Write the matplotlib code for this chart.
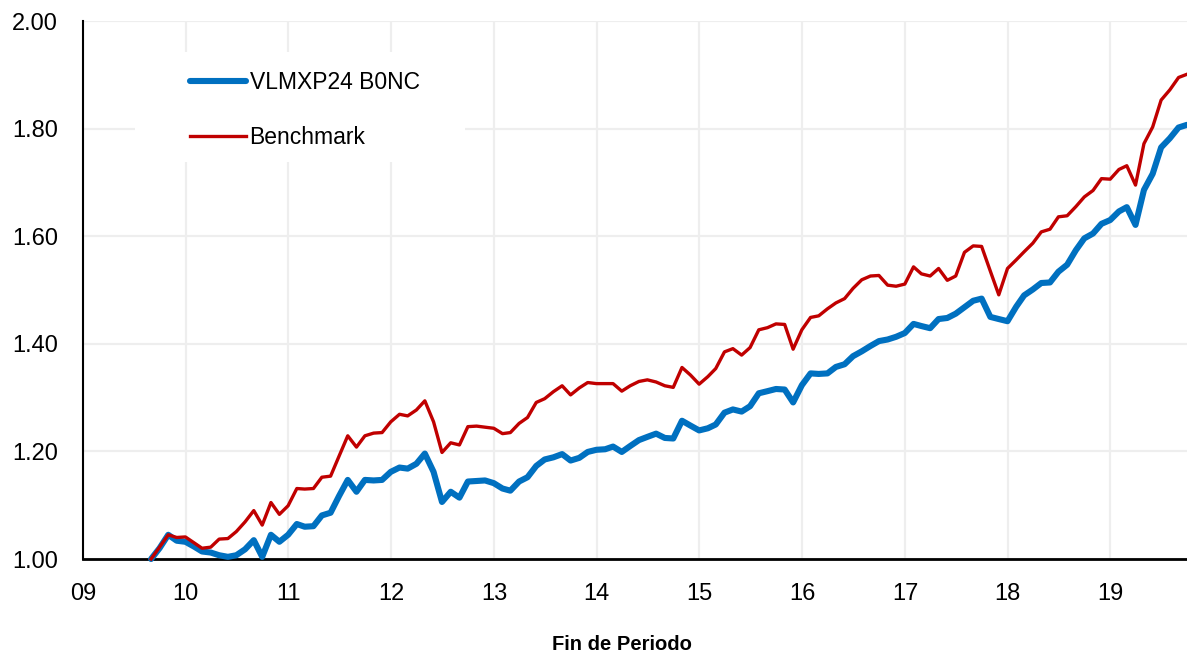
import matplotlib
matplotlib.use("Agg")
import matplotlib.pyplot as plt
import pandas as pd
import datetime as dt
from matplotlib.patches import Rectangle

# ---- data ----
dates = pd.date_range("2009-08-31", periods=122, freq="ME")
fund = [1.000, 1.020, 1.045, 1.034, 1.032, 1.023, 1.014, 1.012, 1.007, 1.004,
        1.007, 1.018, 1.035, 1.004, 1.045, 1.032, 1.045, 1.065, 1.060, 1.061,
        1.081, 1.086, 1.117, 1.147, 1.125, 1.147, 1.146, 1.147, 1.162, 1.170,
        1.168, 1.177, 1.196, 1.162, 1.106, 1.125, 1.114, 1.144, 1.145, 1.146,
        1.141, 1.131, 1.127, 1.144, 1.152, 1.173, 1.185, 1.189, 1.195, 1.183,
        1.188, 1.199, 1.203, 1.204, 1.209, 1.199, 1.210, 1.221, 1.227, 1.233,
        1.225, 1.224, 1.257, 1.248, 1.239, 1.243, 1.250, 1.272, 1.278, 1.274,
        1.284, 1.308, 1.312, 1.316, 1.315, 1.291, 1.323, 1.345, 1.344, 1.345,
        1.357, 1.362, 1.377, 1.386, 1.396, 1.405, 1.408, 1.413, 1.420, 1.437,
        1.433, 1.429, 1.446, 1.448, 1.456, 1.468, 1.480, 1.484, 1.450, 1.446,
        1.442, 1.469, 1.490, 1.501, 1.513, 1.514, 1.534, 1.547, 1.574, 1.596,
        1.605, 1.623, 1.630, 1.646, 1.654, 1.621, 1.686, 1.716, 1.765, 1.782,
        1.802, 1.807]
bench = [1.000, 1.022, 1.045, 1.040, 1.041, 1.030, 1.020, 1.022, 1.037, 1.038,
         1.051, 1.069, 1.090, 1.063, 1.105, 1.083, 1.099, 1.131, 1.130, 1.131,
         1.152, 1.154, 1.191, 1.229, 1.208, 1.229, 1.234, 1.235, 1.255, 1.269,
         1.266, 1.277, 1.294, 1.255, 1.198, 1.216, 1.212, 1.246, 1.247, 1.245,
         1.243, 1.233, 1.235, 1.252, 1.263, 1.291, 1.298, 1.311, 1.322, 1.305,
         1.318, 1.328, 1.326, 1.326, 1.326, 1.312, 1.322, 1.330, 1.333, 1.329,
         1.322, 1.319, 1.356, 1.342, 1.325, 1.339, 1.354, 1.385, 1.391, 1.379,
         1.393, 1.426, 1.430, 1.437, 1.436, 1.390, 1.426, 1.449, 1.452, 1.465,
         1.476, 1.484, 1.503, 1.519, 1.526, 1.527, 1.509, 1.507, 1.511, 1.543,
         1.530, 1.526, 1.540, 1.518, 1.526, 1.570, 1.582, 1.581, 1.535, 1.491,
         1.540, 1.556, 1.571, 1.587, 1.608, 1.613, 1.636, 1.638, 1.655, 1.673,
         1.685, 1.707, 1.706, 1.724, 1.731, 1.695, 1.772, 1.803, 1.853, 1.872,
         1.895, 1.901]
years = list(range(2009, 2020))
year_labels = ["09", "10", "11", "12", "13", "14", "15", "16", "17", "18", "19"]
y_ticks = [1.0, 1.2, 1.4, 1.6, 1.8, 2.0]
series_names = ["VLMXP24 B0NC", "Benchmark"]

plt.rcParams["font.family"] = ["Liberation Sans", "DejaVu Sans"]

W, H = 1187, 658
fig = plt.figure(figsize=(W / 100, H / 100), dpi=100)
ax = fig.add_axes([83 / W, 1 - 559 / H, (W - 83) / W, (559 - 21) / H])

ax.set_axisbelow(True)
ax.grid(True, color="#EEEEEE", linewidth=1.6)

ax.plot(dates, fund, color="#0070C0", linewidth=4.4, label=series_names[0],
        solid_joinstyle="round", solid_capstyle="round", zorder=3, clip_on=False)
ax.plot(dates, bench, color="#C00000", linewidth=2.4, label=series_names[1],
        solid_joinstyle="round", zorder=4, clip_on=False)

ax.set_ylim(1.0, 2.0)
ax.set_yticks(y_ticks)
ax.set_yticklabels([f"{v:.2f}" for v in y_ticks])
ax.set_xlim(dt.datetime(2009, 1, 1), dates[-1])
ax.set_xticks([dt.datetime(y, 1, 1) for y in years])
ax.set_xticklabels(year_labels)
ax.tick_params(axis="both", length=0, labelsize=17, colors="black")
ax.tick_params(axis="y", pad=18)
ax.tick_params(axis="x", pad=17)

for s in ["top", "right"]:
    ax.spines[s].set_visible(False)
ax.spines["left"].set_linewidth(1.5)
ax.spines["bottom"].set_linewidth(2.0)
ax.spines["left"].set_color("black")
ax.spines["bottom"].set_color("black")

# white legend background area
ax.add_patch(Rectangle((0.047, 0.738), 0.299, 0.204, transform=ax.transAxes,
                       facecolor="white", edgecolor="none", zorder=1))
leg = ax.legend(loc="center left", bbox_to_anchor=(0.0969, 0.835), frameon=False,
                fontsize=16.5, handlelength=2.45, handletextpad=0.15,
                labelspacing=1.38, borderpad=0, borderaxespad=0)

fig.text(622 / W, 1 - 645 / H, "Fin de Periodo", ha="center", va="center",
         fontsize=14.5, fontweight="bold")

fig.savefig("out.png", dpi=100)
